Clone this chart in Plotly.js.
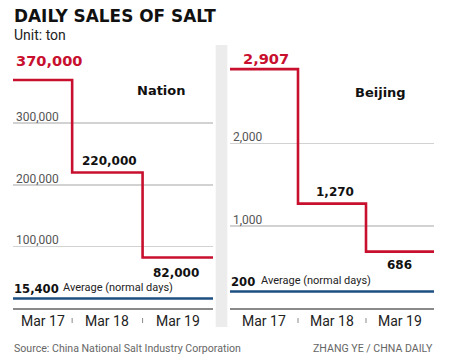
<!DOCTYPE html>
<html>
<head>
<meta charset="utf-8">
<script src="https://cdn.plot.ly/plotly-3.0.1.min.js"></script>
<style>html,body{margin:0;padding:0;background:#fff;}#chart{width:450px;height:363px;}</style>
</head>
<body>
<div id="chart"></div>
<script>
// ---- data ----
const categories = ['Mar 17', 'Mar 18', 'Mar 19'];
const nationSales = [370000, 220000, 82000];
const nationAverage = 15400;
const beijingSales = [2907, 1270, 686];
const beijingAverage = 200;
const nationTickVals = [100000, 200000, 300000, 400000];
const nationTickText = ['100,000', '200,000', '300,000', ''];
const beijingTickVals = [1000, 2000, 3000];
const beijingTickText = ['1,000', '2,000', ''];

// ---- styling ----
const RED = '#c8102e', BLUE = '#1d4f82', GRID = '#d2d2d2', AXIS = '#8a8a8a';
const W = 450, H = 363;
const px = v => v / W, py = v => 1 - v / H;
const BOLD = 'DejaVu Sans', REG = 'Roboto';
const fmt = v => v.toLocaleString('en-US');

// left panel's first column is narrower than the others
const leftStart = 0.16;
const rightStart = 0;

function stepX(start, n) { const xs = [start]; for (let i = 1; i <= n; i++) xs.push(i); return xs; }
function stepY(vals) { return vals.concat([vals[vals.length - 1]]); }
function centers(start, n) { const c = [(start + 1) / 2]; for (let i = 1; i < n; i++) c.push(i + 0.5); return c; }

const n = categories.length;
const traces = [
  {x: stepX(leftStart, n), y: stepY(nationSales), xaxis: 'x', yaxis: 'y', mode: 'lines',
   line: {shape: 'hv', color: RED, width: 2.6}, hoverinfo: 'skip'},
  {x: [leftStart, n], y: [nationAverage, nationAverage], xaxis: 'x', yaxis: 'y', mode: 'lines',
   line: {color: BLUE, width: 2.6}, hoverinfo: 'skip'},
  {x: stepX(rightStart, n), y: stepY(beijingSales), xaxis: 'x2', yaxis: 'y2', mode: 'lines',
   line: {shape: 'hv', color: RED, width: 2.6}, hoverinfo: 'skip'},
  {x: [rightStart, n], y: [beijingAverage, beijingAverage], xaxis: 'x2', yaxis: 'y2', mode: 'lines',
   line: {color: BLUE, width: 2.6}, hoverinfo: 'skip'}
];

const yDomain = [py(308), py(61.5)];
function xAxis(domain, start, anchor) {
  return {domain: domain, anchor: anchor, range: [start, n], showticklabels: false,
    showgrid: false, zeroline: false, showline: true, linecolor: AXIS, linewidth: 1.5,
    ticks: '', automargin: false, fixedrange: true};
}
function yAxis(anchor, range, tv, tt) {
  return {domain: yDomain, anchor: anchor, range: range, tickmode: 'array', tickvals: tv, ticktext: tt,
    showgrid: true, gridcolor: GRID, gridwidth: 1.5, zeroline: false, showline: false, ticks: '',
    ticklabelposition: 'inside top', ticklabelshift: 2, automargin: false,
    tickfont: {family: REG, size: 12, color: '#555'}, fixedrange: true};
}

const ann = [];
function A(o) { ann.push(Object.assign({showarrow: false}, o)); }
// titles
A({xref: 'paper', yref: 'paper', x: px(12), y: py(16.5), xanchor: 'left', yanchor: 'middle',
   text: '<b>DAILY SALES OF SALT</b>', font: {family: BOLD, size: 16.9, color: '#111'}});
A({xref: 'paper', yref: 'paper', x: px(12), y: py(34.5), xanchor: 'left', yanchor: 'middle',
   text: 'Unit: ton', font: {family: REG, size: 14, color: '#222'}});
// panel names
A({xref: 'paper', yref: 'paper', x: px(161), y: py(91), xanchor: 'center', yanchor: 'middle',
   text: '<b>Nation</b>', font: {family: BOLD, size: 13, color: '#111'}});
A({xref: 'paper', yref: 'paper', x: px(380), y: py(92), xanchor: 'center', yanchor: 'middle',
   text: '<b>Beijing</b>', font: {family: BOLD, size: 13, color: '#111'}});
// category labels under each panel
function catLabels(xr, start) {
  centers(start, n).forEach((c, i) => A({xref: xr, yref: 'paper', x: c, y: py(321), xanchor: 'center', yanchor: 'middle',
    text: categories[i], font: {family: REG, size: 14, color: '#222'}}));
}
catLabels('x', leftStart);
catLabels('x2', rightStart);
// value labels
function valueLabels(xr, yr, start, vals, o) {
  A({xref: xr, yref: yr, x: start, y: vals[0], xanchor: 'left', yanchor: 'middle', xshift: o[0][0], yshift: o[0][1],
     text: '<b>' + fmt(vals[0]) + '</b>', font: {family: BOLD, size: 14.6, color: RED}});
  A({xref: xr, yref: yr, x: 1, y: vals[1], xanchor: 'left', yanchor: 'middle', xshift: o[1][0], yshift: o[1][1],
     text: '<b>' + fmt(vals[1]) + '</b>', font: {family: BOLD, size: 12, color: '#111'}});
  A({xref: xr, yref: yr, x: n, y: vals[2], xanchor: 'right', yanchor: 'middle', xshift: o[2][0], yshift: o[2][1],
     text: '<b>' + fmt(vals[2]) + '</b>', font: {family: BOLD, size: 12, color: '#111'}});
}
valueLabels('x', 'y', leftStart, nationSales, [[1, 19], [8, 11], [-12, -16]]);
valueLabels('x2', 'y2', rightStart, beijingSales, [[11, 11], [16, 12], [-20, -13]]);
// averages
function avgLabel(xr, yr, start, v, textShift) {
  A({xref: xr, yref: yr, x: start, y: v, xanchor: 'left', yanchor: 'middle', xshift: -1, yshift: 10,
     text: '<b>' + fmt(v) + '</b>', font: {family: BOLD, size: 11.6, color: '#111'}});
  A({xref: xr, yref: yr, x: start, y: v, xanchor: 'left', yanchor: 'middle', xshift: textShift, yshift: 11,
     text: 'Average (normal days)', font: {family: REG, size: 11, color: '#222'}});
}
avgLabel('x', 'y', leftStart, nationAverage, 48);
avgLabel('x2', 'y2', rightStart, beijingAverage, 29);
// footer
A({xref: 'paper', yref: 'paper', x: px(12), y: py(348), xanchor: 'left', yanchor: 'middle',
   text: 'Source: China National Salt Industry Corporation', font: {family: REG, size: 10.6, color: '#666'}});
A({xref: 'paper', yref: 'paper', x: px(435), y: py(348), xanchor: 'right', yanchor: 'middle',
   text: 'ZHANG YE / CHNA DAILY', font: {family: REG, size: 10.6, color: '#666'}});

const shapes = [
  {type: 'rect', xref: 'paper', yref: 'paper', x0: px(215.7), x1: px(227.3), y0: py(327), y1: py(45),
   fillcolor: '#ececec', line: {width: 0}, layer: 'below'}
];
for (let i = 1; i < n; i++) {
  ['x', 'x2'].forEach(xr => shapes.push({type: 'line', xref: xr, yref: 'paper', x0: i, x1: i,
    y0: py(323), y1: py(318), line: {color: AXIS, width: 1}}));
}

const layout = {
  width: W, height: H, margin: {l: 0, r: 0, t: 0, b: 0}, showlegend: false,
  paper_bgcolor: '#fff', plot_bgcolor: 'rgba(0,0,0,0)',
  xaxis: xAxis([px(13), px(213)], leftStart, 'y'),
  yaxis: yAxis('x', [0, 400000], nationTickVals, nationTickText),
  xaxis2: xAxis([px(230), px(434)], rightStart, 'y2'),
  yaxis2: yAxis('x2', [0, 3000], beijingTickVals, beijingTickText),
  annotations: ann, shapes: shapes
};
Plotly.newPlot('chart', traces, layout, {staticPlot: true, displayModeBar: false});
</script>
</body>
</html>
